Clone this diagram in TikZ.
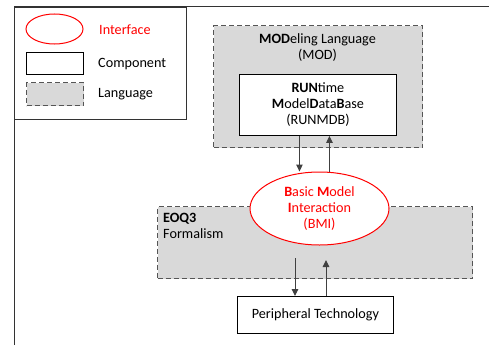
\documentclass[tikz,border=0pt]{standalone}
\usepackage{fontspec}
\setmainfont{Carlito}
\usetikzlibrary{arrows.meta, positioning, shapes.geometric}
\definecolor{langgray}{HTML}{D9D9D9}
\definecolor{dashgray}{HTML}{555555}
\definecolor{ifred}{HTML}{FF0000}
\definecolor{arrgray}{HTML}{404040}
\definecolor{framegray}{HTML}{333333}

\begin{document}
\begin{tikzpicture}[
  x=1pt, y=-1pt,
  >={Triangle[length=7pt, width=6.5pt]},
  every node/.style={font=\fontsize{14.2}{16}\selectfont},
  lang/.style={
    draw=dashgray, dash pattern=on 5pt off 3pt, line width=1.2pt, fill=langgray,
    anchor=north west, inner sep=0pt
  },
  comp/.style={
    draw=black, line width=0.9pt, fill=white, align=center,
    anchor=north west, inner sep=0pt
  },
  iface/.style={
    ellipse, draw=ifred, line width=1pt, fill=white, text=ifred,
    align=center, inner sep=0pt
  },
  arr/.style={->, line width=1pt, arrgray},
  keytxt/.style={anchor=base west, inner sep=0pt},
]
\useasboundingbox (0,0) rectangle (489,345);

% Frame
\draw[framegray, line width=1pt] (14,345) -- (14,7) -- (489,7);

% =============================================
% Legend
% =============================================
\node[draw=framegray, line width=1pt, anchor=north west, inner sep=0pt,
      minimum width=172pt, minimum height=112pt] (legend) at (14,7) {};
\node[iface, minimum width=57pt, minimum height=30pt] (key-if) at (54.5,29) {};
\node[keytxt, text=ifred] (key-if-txt) at (99,35) {Interface};
\node[comp, minimum width=57pt, minimum height=22pt] (key-comp) at (26,52) {};
\node[keytxt] (key-comp-txt) at (98,67) {Component};
\node[lang, minimum width=57pt, minimum height=23pt] (key-lang) at (26,82) {};
\node[keytxt] (key-lang-txt) at (98,97) {Language};

% =============================================
% Top: MODeling Language with RUNMDB
% =============================================
\node[lang, minimum width=209pt, minimum height=122pt] (mod) at (213,25) {};
\node[align=center, inner sep=0pt] (mod-txt) at (317.5,47.5)
  {\textbf{MOD}eling Language\\(MOD)};
\node[comp, minimum width=157pt, minimum height=61pt] (runmdb) at (239,74)
  {\textbf{RUN}time\\\textbf{M}odel\textbf{D}ata\textbf{B}ase\\(RUNMDB)};

% =============================================
% Middle: EOQ3 Formalism and BMI
% =============================================
\node[lang, minimum width=315pt, minimum height=72pt] (eoq) at (157,206) {};
\node[align=left, anchor=west, inner sep=0pt] (eoq-txt) at (163,226)
  {\textbf{EOQ3}\\Formalism};
\node[iface, minimum width=139pt, minimum height=73pt] (bmi) at (319.5,208.5)
  {\textbf{B}asic \textbf{M}odel\\\textbf{I}nteraction\\(BMI)};

% =============================================
% Bottom: Peripheral Technology
% =============================================
\node[comp, minimum width=156pt, minimum height=37pt] (periph) at (237,296)
  {Peripheral Technology};

\coordinate (eoq-out) at (295,258);
\coordinate (eoq-in) at (326,260);

% =============================================
% Arrows
% =============================================
\draw[arr] ([xshift=-18.5pt]runmdb.south) -- ([xshift=-18.5pt]runmdb.south |- bmi.north);
\draw[arr] ([xshift=11.5pt]runmdb.south |- bmi.north) -- ([xshift=11.5pt]runmdb.south);

\draw[arr] (eoq-out) -- (eoq-out |- periph.north);
\draw[arr] (eoq-in |- periph.north) -- (eoq-in);

\end{tikzpicture}
\end{document}
